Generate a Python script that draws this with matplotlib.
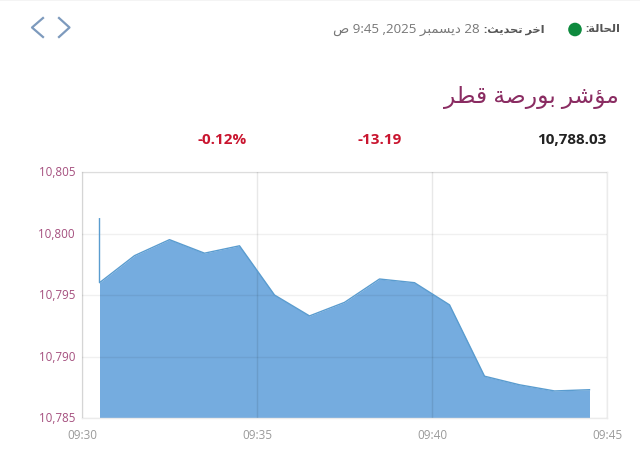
import matplotlib
matplotlib.use("Agg")
import matplotlib.pyplot as plt
from matplotlib.lines import Line2D
from matplotlib.patches import Circle, Rectangle
from matplotlib.transforms import ScaledTranslation

W, H = 640, 461

# data (minutes after 09:30)
minutes = [0.5, 0.5, 1.5, 2.5, 3.5, 4.5, 5.5, 6.5, 7.5, 8.5, 9.5, 10.5, 11.5, 12.5, 13.5, 14.5]
values = [10801.2, 10796.0, 10798.2, 10799.5, 10798.4, 10799.0, 10795.0, 10793.3, 10794.4,
          10796.3, 10796.0, 10794.2, 10788.4, 10787.7, 10787.2, 10787.3]
y_ticks = [10785, 10790, 10795, 10800, 10805]
x_ticks = [0, 5, 10, 15]
x_labels = ["09:30", "09:35", "09:40", "09:45"]

title_text = "مؤشر بورصة قطر"
status_text = "الحالة:"
update_label = "اخر تحديث:"
update_text = "28 ديسمبر 2025, 9:45 ص"
last_value = "10,788.03"
change_value = "-13.19"
change_pct = "-0.12%"

FORMS = {
    "ا": (0xFE8D, 0xFE8E, None, None), "ؤ": (0xFE85, 0xFE86, None, None),
    "ب": (0xFE8F, 0xFE90, 0xFE91, 0xFE92), "ة": (0xFE93, 0xFE94, None, None),
    "ت": (0xFE95, 0xFE96, 0xFE97, 0xFE98), "ث": (0xFE99, 0xFE9A, 0xFE9B, 0xFE9C),
    "ح": (0xFEA1, 0xFEA2, 0xFEA3, 0xFEA4), "خ": (0xFEA5, 0xFEA6, 0xFEA7, 0xFEA8),
    "د": (0xFEA9, 0xFEAA, None, None), "ر": (0xFEAD, 0xFEAE, None, None),
    "س": (0xFEB1, 0xFEB2, 0xFEB3, 0xFEB4), "ش": (0xFEB5, 0xFEB6, 0xFEB7, 0xFEB8),
    "ص": (0xFEB9, 0xFEBA, 0xFEBB, 0xFEBC), "ط": (0xFEC1, 0xFEC2, 0xFEC3, 0xFEC4),
    "ق": (0xFED5, 0xFED6, 0xFED7, 0xFED8), "ل": (0xFEDD, 0xFEDE, 0xFEDF, 0xFEE0),
    "م": (0xFEE1, 0xFEE2, 0xFEE3, 0xFEE4), "و": (0xFEED, 0xFEEE, None, None),
    "ي": (0xFEF1, 0xFEF2, 0xFEF3, 0xFEF4),
}


def shape_word(word):
    out = []
    for i, c in enumerate(word):
        if c not in FORMS:
            out.append(c)
            continue
        prev = word[i - 1] if i else ""
        nxt = word[i + 1] if i + 1 < len(word) else ""
        joins_prev = prev in FORMS and FORMS[prev][2] is not None
        joins_next = nxt in FORMS and FORMS[c][2] is not None
        iso, fin, ini, med = FORMS[c]
        code = med if joins_prev and joins_next else fin if joins_prev else ini if joins_next else iso
        out.append(chr(code))
    return "".join(reversed(out))


def visual(text):
    tokens = []
    for tok in text.split(" "):
        if tok[0].isascii():
            tok = "," + tok[:-1] if tok.endswith(",") else tok
            tokens.append(tok)
        else:
            tokens.append(shape_word(tok))
    return " ".join(reversed(tokens))


plt.rcParams["font.family"] = ["Open Sans", "DejaVu Sans"]
fig = plt.figure(figsize=(W / 100, H / 100), dpi=100, facecolor="white")
ax = fig.add_axes([82 / W, 1 - 418 / H, 525 / W, 246 / H])
ax.set_xlim(0, 15)
ax.set_ylim(10785, 10805)
ax.fill_between(minutes, values, 10785, color="#75acdf", lw=0, zorder=2)
ax.plot(minutes, values, color="#5a9ccf", lw=1.0, zorder=3)
ax.set_xticks(x_ticks, x_labels)
ax.set_yticks(y_ticks, [f"{v:,}" for v in y_ticks])
ax.tick_params(length=0)
ax.tick_params(axis="x", labelsize=8.5, labelcolor="#9a9a9a", pad=8)
ax.tick_params(axis="y", labelsize=8.4, labelcolor="#a5507f", pad=5)
shift = ScaledTranslation(0, 1 / 100, fig.dpi_scale_trans)
for lab in ax.get_yticklabels():
    lab.set_transform(lab.get_transform() + shift)
ax.grid(axis="y", color="#000000", alpha=0.06, lw=1, zorder=4)
ax.grid(axis="x", color="#000000", alpha=0.09, lw=1, zorder=4)
ax.set_axisbelow(False)
for s in ax.spines.values():
    s.set_color("#ebebeb")
    s.set_linewidth(1)


def X(px):
    return px / W


def Y(py):
    return 1 - py / H


fig.add_artist(Rectangle((0, Y(1.5)), 1, 1.5 / H, transform=fig.transFigure, color="#f4f4f4", lw=0))
chevrons = [([43, 32, 43], [18, 27.5, 37]), ([59, 69.5, 59], [18, 27.5, 37])]
for xs, ys in chevrons:
    fig.add_artist(Line2D([X(v) for v in xs], [Y(v) for v in ys], color="#7d9abd", lw=1.6,
                          transform=fig.transFigure))
fig.add_artist(Circle((575, H - 29.5), 6.8, transform=None, color="#0e8a3e", lw=0))

fig.text(X(620), Y(30), visual(status_text), ha="right", va="center", fontsize=8.2, color="#555555", weight="bold")
fig.text(X(545), Y(30), visual(update_label), ha="right", va="center", fontsize=8.2, color="#555555", weight="bold")
fig.text(X(480), Y(30), visual(update_text), ha="right", va="center", fontsize=9.6, color="#777777")
fig.text(X(619), Y(97), visual(title_text), ha="right", va="center", fontsize=16.8, color="#8a2c62")
fig.text(X(607), Y(140), last_value, ha="right", va="center", fontsize=11, color="#222222", weight="bold")
fig.text(X(402), Y(140), change_value, ha="right", va="center", fontsize=11, color="#c9152f", weight="bold")
fig.text(X(247), Y(140), change_pct, ha="right", va="center", fontsize=11, color="#c9152f", weight="bold")

fig.savefig("out.png", dpi=100)
